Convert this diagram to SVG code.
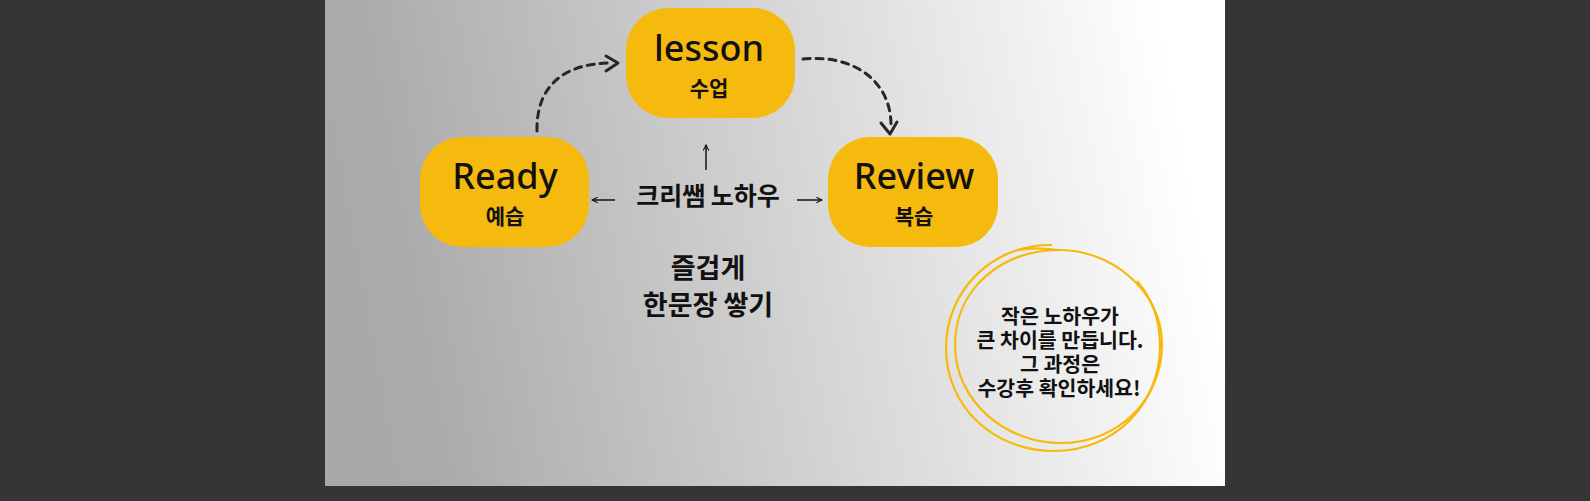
<svg xmlns="http://www.w3.org/2000/svg" width="1590" height="501" viewBox="0 0 1590 501">
  <defs>
    <linearGradient id="bg" x1="0" y1="0.55" x2="1" y2="0.45">
      <stop offset="0" stop-color="#a9a9a9"/>
      <stop offset="0.08" stop-color="#aaaaaa"/>
      <stop offset="0.97" stop-color="#ffffff"/>
      <stop offset="1" stop-color="#ffffff"/>
    </linearGradient>
    <marker id="thin" viewBox="0 0 10 10" refX="9" refY="5" markerWidth="7" markerHeight="7" markerUnits="userSpaceOnUse" orient="auto">
      <path d="M1 1 L9 5 L1 9" fill="none" stroke="#111" stroke-width="1.5"/>
    </marker>
    <style>
      .box { fill: #F6B90E; }
      .en { font-family: "Noto Sans", "Liberation Sans", sans-serif; font-size: 36px; font-weight: 500; fill: #111; text-anchor: middle; }
      .ko { font-family: "Noto Sans CJK KR", "Noto Sans", sans-serif; fill: #111; text-anchor: middle; }
      .sub { font-size: 21px; font-weight: 700; }
      .dash { fill: none; stroke: #262626; stroke-width: 3; stroke-dasharray: 7 6; stroke-linecap: round; }
      .head { fill: none; stroke: #262626; stroke-width: 3; stroke-linecap: round; stroke-linejoin: round; }
      .thin { fill: none; stroke: #111; stroke-width: 1.5; }
      .ring { fill: none; stroke: #F6B90E; stroke-width: 2.2; }
      .note { font-size: 20.5px; font-weight: 700; }
    </style>
  </defs>
  <rect x="0" y="0" width="1590" height="501" fill="#353535"/>
  <rect x="325" y="0" width="900" height="486" fill="url(#bg)"/>

  <g id="connectors">
    <path class="dash" d="M537 131 C536 85 565 63 612 63"/>
    <path class="head" d="M606 56 L618 63 L606 71"/>
    <path class="dash" d="M803 59 C852 54 892 80 891 127"/>
    <path class="head" d="M881 123 L890 134 L897 122"/>
    <path class="thin" d="M615 200 L592 200" marker-end="url(#thin)"/>
    <path class="thin" d="M797 200 L822 200" marker-end="url(#thin)"/>
    <path class="thin" d="M706 170 L706 145" marker-end="url(#thin)"/>
  </g>

  <g id="node-lesson">
    <rect class="box" x="626" y="8" width="169" height="110" rx="42"/>
    <text class="en" x="709" y="61">lesson</text>
    <text class="ko sub" x="709" y="96">수업</text>
  </g>
  <g id="node-ready">
    <rect class="box" x="420" y="137" width="169" height="110" rx="42"/>
    <text class="en" x="505" y="189">Ready</text>
    <text class="ko sub" x="505" y="224">예습</text>
  </g>
  <g id="node-review">
    <rect class="box" x="828" y="137" width="170" height="110" rx="42"/>
    <text class="en" x="914" y="189">Review</text>
    <text class="ko sub" x="914" y="224">복습</text>
  </g>

  <g id="node-knowhow">
    <text class="ko" x="708" y="205" font-size="25" font-weight="600">크리쌤 노하우</text>
  </g>

  <g id="node-fun">
    <text class="ko" x="708" y="278" font-size="27" font-weight="700">즐겁게</text>
    <text class="ko" x="708" y="315" font-size="27" font-weight="700">한문장 쌓기</text>
  </g>

  <g id="node-circle">
    <path class="ring" d="M1052 245 C993 244 946 290 946 348 C946 406 993 451 1054 451 C1115 451 1160 404 1160 346 C1160 320 1152 298 1137 281"/>
    <path class="ring" d="M1020 250 C1035 246 1048 250 1060 250 C1110 250 1162 290 1162 344 C1162 400 1118 443 1061 443 C1004 443 955 400 955 345 C955 290 1000 250 1060 250"/>
    <text class="ko note" x="1060" y="324">작은 노하우가</text>
    <text class="ko note" x="1060" y="348">큰 차이를 만듭니다.</text>
    <text class="ko note" x="1060" y="372">그 과정은</text>
    <text class="ko note" x="1059" y="396">수강후 확인하세요!</text>
  </g>
</svg>
